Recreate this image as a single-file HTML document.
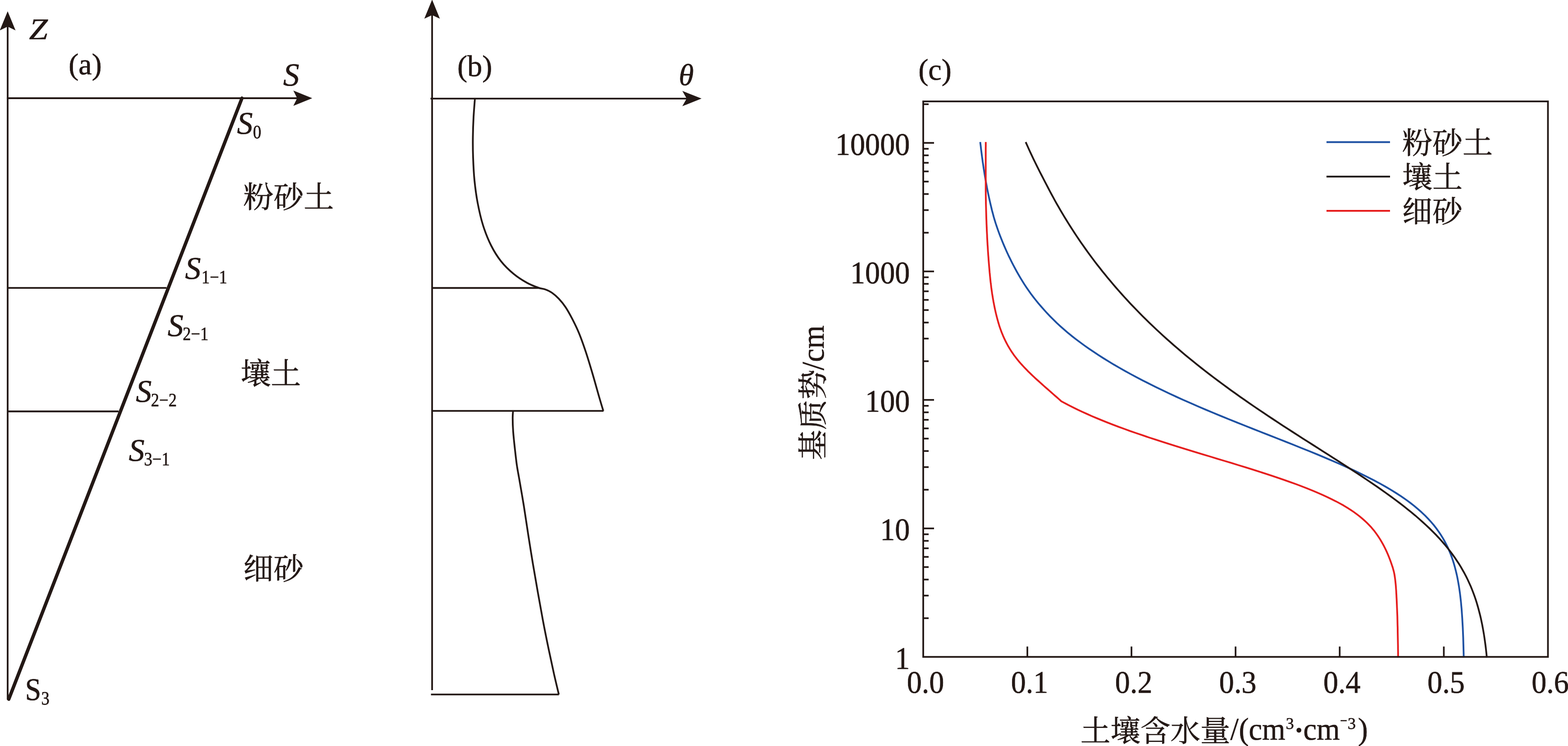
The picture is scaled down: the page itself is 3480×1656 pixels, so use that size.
<!DOCTYPE html>
<html lang="zh"><head><meta charset="utf-8"><title>Soil profile and water retention curves</title>
<style>
html,body{margin:0;padding:0;background:#fff;}
body{width:3480px;height:1656px;overflow:hidden;}
svg{display:block;}
text{font-family:"Liberation Serif","Noto Serif CJK SC",serif;fill:#231815;stroke:#231815;stroke-width:0.7px;stroke-linejoin:round;text-rendering:geometricPrecision;}
.i{font-style:italic;}
</style></head><body>
<svg width="3480" height="1656" viewBox="0 0 3480 1656">
<g opacity="0.999">
<line x1="17.0" y1="57.0" x2="17.0" y2="1553.0" stroke="#231815" stroke-width="3.8" stroke-linecap="butt"/>
<path d="M17.0 25.0 L34.5 67.5 L17.0 59.0 L-0.5 67.5 Z" fill="#231815"/>
<line x1="15.2" y1="218.0" x2="660.0" y2="218.0" stroke="#231815" stroke-width="3.8" stroke-linecap="butt"/>
<path d="M693.0 218.0 L651.0 235.0 L659.5 218.0 L651.0 201.0 Z" fill="#231815"/>
<line x1="537.0" y1="218.0" x2="19.5" y2="1552.0" stroke="#231815" stroke-width="7.6" stroke-linecap="round"/>
<line x1="17.0" y1="639.1" x2="369.5" y2="639.1" stroke="#231815" stroke-width="3.9" stroke-linecap="butt"/>
<line x1="17.0" y1="913.2" x2="263.0" y2="913.2" stroke="#231815" stroke-width="3.9" stroke-linecap="butt"/>
<text transform="translate(64.6,87.4) scale(1.120,1)" font-size="66.5" text-anchor="start" class="i" >Z</text>
<text x="152.2" y="165.4" font-size="66.5" text-anchor="start" >(a)</text>
<text x="628.6" y="189.6" font-size="71.5" text-anchor="start" class="i" >S</text>
<text x="525.9" y="297.3" font-size="70.0" text-anchor="start" class="i" >S</text>
<text transform="translate(561.4,307.1) scale(0.870,1)" font-size="42.0" text-anchor="start" >0</text>
<text x="410.7" y="619.2" font-size="70.0" text-anchor="start" class="i" >S</text>
<text transform="translate(447.2,629.0) scale(0.870,1)" font-size="42.0" text-anchor="start" >1−1</text>
<text x="372.0" y="745.6" font-size="70.0" text-anchor="start" class="i" >S</text>
<text transform="translate(405.5,755.4) scale(0.870,1)" font-size="42.0" text-anchor="start" >2−1</text>
<text x="301.6" y="891.9" font-size="70.0" text-anchor="start" class="i" >S</text>
<text transform="translate(335.1,901.7) scale(0.870,1)" font-size="42.0" text-anchor="start" >2−2</text>
<text x="285.8" y="1022.7" font-size="70.0" text-anchor="start" class="i" >S</text>
<text transform="translate(319.8,1032.5) scale(0.870,1)" font-size="42.0" text-anchor="start" >3−1</text>
<text transform="translate(55.7,1554.1) scale(0.910,1)" font-size="70.0" text-anchor="start" >S</text>
<text transform="translate(91.6,1563.9) scale(0.870,1)" font-size="42.0" text-anchor="start" >3</text>
<text x="540.0" y="460.8" font-size="67" text-anchor="start">粉砂土</text>
<text x="534.0" y="853.0" font-size="67" text-anchor="start">壤土</text>
<text x="540.0" y="1286.0" font-size="67" text-anchor="start">细砂</text>
<line x1="959.0" y1="30.0" x2="959.0" y2="1532.0" stroke="#231815" stroke-width="3.8" stroke-linecap="butt"/>
<path d="M959.0 -0.8 L976.3 41.6 L959.0 33.4 L941.7 41.6 Z" fill="#231815"/>
<line x1="955.5" y1="218.8" x2="1524.0" y2="218.8" stroke="#231815" stroke-width="3.8" stroke-linecap="butt"/>
<path d="M1557.0 218.8 L1514.3 235.8 L1524.0 218.8 L1514.3 201.8 Z" fill="#231815"/>
<text x="1014.9" y="169.0" font-size="66.5" text-anchor="start" >(b)</text>
<text x="1506.4" y="188.7" font-size="67.5" text-anchor="start" class="i" >θ</text>
<line x1="959.0" y1="639.2" x2="1197.0" y2="639.2" stroke="#231815" stroke-width="3.9" stroke-linecap="butt"/>
<line x1="959.0" y1="912.1" x2="1339.5" y2="912.1" stroke="#231815" stroke-width="3.9" stroke-linecap="butt"/>
<line x1="956.5" y1="1541.6" x2="1240.5" y2="1541.6" stroke="#231815" stroke-width="3.9" stroke-linecap="butt"/>
<path d="M1054.0 218.8C1053.5 225.7 1051.8 245.6 1051.0 260.0C1050.2 274.4 1049.7 290.0 1049.5 305.0C1049.3 320.0 1049.4 334.2 1050.0 350.0C1050.6 365.8 1051.3 383.3 1053.0 400.0C1054.7 416.7 1056.8 433.3 1060.0 450.0C1063.2 466.7 1067.0 484.2 1072.0 500.0C1077.0 515.8 1083.3 531.7 1090.0 545.0C1096.7 558.3 1103.7 569.5 1112.0 580.0C1120.3 590.5 1130.3 600.0 1140.0 608.0C1149.7 616.0 1160.8 622.9 1170.0 628.0C1179.2 633.1 1188.5 636.4 1195.2 638.8C1201.9 641.2 1205.2 640.6 1210.2 642.5C1215.2 644.4 1220.2 646.5 1225.2 650.0C1230.2 653.5 1235.2 657.9 1240.2 663.2C1245.2 668.5 1250.2 674.4 1255.2 681.9C1260.2 689.4 1265.2 698.5 1270.2 708.2C1275.2 717.9 1280.2 727.8 1285.2 740.0C1290.2 752.2 1295.2 766.4 1300.2 781.4C1305.2 796.4 1310.2 813.2 1315.2 830.1C1320.2 847.0 1326.2 869.0 1330.2 882.7C1334.2 896.4 1337.5 907.2 1339.0 912.1" fill="none" stroke="#231815" stroke-width="3.9" stroke-linejoin="round"/>
<path d="M1138.7 912.1C1138.5 914.7 1137.8 920.1 1137.8 927.7C1137.8 935.3 1138.1 946.5 1138.9 957.7C1139.7 969.0 1141.2 982.7 1142.6 995.2C1144.0 1007.7 1145.5 1021.8 1147.1 1032.8C1148.7 1043.8 1149.4 1045.9 1152.0 1061.0C1154.6 1076.1 1159.3 1102.6 1162.7 1123.6C1166.1 1144.6 1169.1 1166.0 1172.4 1187.2C1175.7 1208.4 1179.1 1229.7 1182.6 1250.9C1186.1 1272.1 1189.8 1293.3 1193.6 1314.5C1197.3 1335.7 1201.1 1356.9 1205.1 1378.1C1209.1 1399.3 1213.7 1421.9 1217.8 1441.7C1221.9 1461.5 1226.0 1480.2 1229.7 1496.9C1233.5 1513.6 1238.5 1534.1 1240.3 1541.6" fill="none" stroke="#231815" stroke-width="3.9" stroke-linejoin="round"/>
<line x1="2049.0" y1="1372.3" x2="2061.0" y2="1372.3" stroke="#231815" stroke-width="3.7" stroke-linecap="butt"/>
<line x1="2049.0" y1="1322.1" x2="2061.0" y2="1322.1" stroke="#231815" stroke-width="3.7" stroke-linecap="butt"/>
<line x1="2049.0" y1="1286.5" x2="2061.0" y2="1286.5" stroke="#231815" stroke-width="3.7" stroke-linecap="butt"/>
<line x1="2049.0" y1="1258.8" x2="2061.0" y2="1258.8" stroke="#231815" stroke-width="3.7" stroke-linecap="butt"/>
<line x1="2049.0" y1="1236.2" x2="2061.0" y2="1236.2" stroke="#231815" stroke-width="3.7" stroke-linecap="butt"/>
<line x1="2049.0" y1="1217.1" x2="2061.0" y2="1217.1" stroke="#231815" stroke-width="3.7" stroke-linecap="butt"/>
<line x1="2049.0" y1="1200.6" x2="2061.0" y2="1200.6" stroke="#231815" stroke-width="3.7" stroke-linecap="butt"/>
<line x1="2049.0" y1="1186.0" x2="2061.0" y2="1186.0" stroke="#231815" stroke-width="3.7" stroke-linecap="butt"/>
<line x1="2049.0" y1="1173.0" x2="2073.0" y2="1173.0" stroke="#231815" stroke-width="3.7" stroke-linecap="butt"/>
<line x1="2049.0" y1="1087.1" x2="2061.0" y2="1087.1" stroke="#231815" stroke-width="3.7" stroke-linecap="butt"/>
<line x1="2049.0" y1="1036.9" x2="2061.0" y2="1036.9" stroke="#231815" stroke-width="3.7" stroke-linecap="butt"/>
<line x1="2049.0" y1="1001.2" x2="2061.0" y2="1001.2" stroke="#231815" stroke-width="3.7" stroke-linecap="butt"/>
<line x1="2049.0" y1="973.6" x2="2061.0" y2="973.6" stroke="#231815" stroke-width="3.7" stroke-linecap="butt"/>
<line x1="2049.0" y1="951.0" x2="2061.0" y2="951.0" stroke="#231815" stroke-width="3.7" stroke-linecap="butt"/>
<line x1="2049.0" y1="931.9" x2="2061.0" y2="931.9" stroke="#231815" stroke-width="3.7" stroke-linecap="butt"/>
<line x1="2049.0" y1="915.3" x2="2061.0" y2="915.3" stroke="#231815" stroke-width="3.7" stroke-linecap="butt"/>
<line x1="2049.0" y1="900.8" x2="2061.0" y2="900.8" stroke="#231815" stroke-width="3.7" stroke-linecap="butt"/>
<line x1="2049.0" y1="887.7" x2="2073.0" y2="887.7" stroke="#231815" stroke-width="3.7" stroke-linecap="butt"/>
<line x1="2049.0" y1="801.8" x2="2061.0" y2="801.8" stroke="#231815" stroke-width="3.7" stroke-linecap="butt"/>
<line x1="2049.0" y1="751.6" x2="2061.0" y2="751.6" stroke="#231815" stroke-width="3.7" stroke-linecap="butt"/>
<line x1="2049.0" y1="716.0" x2="2061.0" y2="716.0" stroke="#231815" stroke-width="3.7" stroke-linecap="butt"/>
<line x1="2049.0" y1="688.3" x2="2061.0" y2="688.3" stroke="#231815" stroke-width="3.7" stroke-linecap="butt"/>
<line x1="2049.0" y1="665.7" x2="2061.0" y2="665.7" stroke="#231815" stroke-width="3.7" stroke-linecap="butt"/>
<line x1="2049.0" y1="646.6" x2="2061.0" y2="646.6" stroke="#231815" stroke-width="3.7" stroke-linecap="butt"/>
<line x1="2049.0" y1="630.1" x2="2061.0" y2="630.1" stroke="#231815" stroke-width="3.7" stroke-linecap="butt"/>
<line x1="2049.0" y1="615.5" x2="2061.0" y2="615.5" stroke="#231815" stroke-width="3.7" stroke-linecap="butt"/>
<line x1="2049.0" y1="602.5" x2="2073.0" y2="602.5" stroke="#231815" stroke-width="3.7" stroke-linecap="butt"/>
<line x1="2049.0" y1="516.6" x2="2061.0" y2="516.6" stroke="#231815" stroke-width="3.7" stroke-linecap="butt"/>
<line x1="2049.0" y1="466.4" x2="2061.0" y2="466.4" stroke="#231815" stroke-width="3.7" stroke-linecap="butt"/>
<line x1="2049.0" y1="430.7" x2="2061.0" y2="430.7" stroke="#231815" stroke-width="3.7" stroke-linecap="butt"/>
<line x1="2049.0" y1="403.1" x2="2061.0" y2="403.1" stroke="#231815" stroke-width="3.7" stroke-linecap="butt"/>
<line x1="2049.0" y1="380.5" x2="2061.0" y2="380.5" stroke="#231815" stroke-width="3.7" stroke-linecap="butt"/>
<line x1="2049.0" y1="361.4" x2="2061.0" y2="361.4" stroke="#231815" stroke-width="3.7" stroke-linecap="butt"/>
<line x1="2049.0" y1="344.8" x2="2061.0" y2="344.8" stroke="#231815" stroke-width="3.7" stroke-linecap="butt"/>
<line x1="2049.0" y1="330.3" x2="2061.0" y2="330.3" stroke="#231815" stroke-width="3.7" stroke-linecap="butt"/>
<line x1="2049.0" y1="317.2" x2="2073.0" y2="317.2" stroke="#231815" stroke-width="3.7" stroke-linecap="butt"/>
<line x1="2049.0" y1="231.3" x2="2061.0" y2="231.3" stroke="#231815" stroke-width="3.7" stroke-linecap="butt"/>
<line x1="2280.1" y1="1458.2" x2="2280.1" y2="1435.2" stroke="#231815" stroke-width="3.7" stroke-linecap="butt"/>
<line x1="2511.2" y1="1458.2" x2="2511.2" y2="1435.2" stroke="#231815" stroke-width="3.7" stroke-linecap="butt"/>
<line x1="2742.2" y1="1458.2" x2="2742.2" y2="1435.2" stroke="#231815" stroke-width="3.7" stroke-linecap="butt"/>
<line x1="2973.3" y1="1458.2" x2="2973.3" y2="1435.2" stroke="#231815" stroke-width="3.7" stroke-linecap="butt"/>
<line x1="3204.4" y1="1458.2" x2="3204.4" y2="1435.2" stroke="#231815" stroke-width="3.7" stroke-linecap="butt"/>
<text transform="translate(2019.3,343.5) scale(0.945,1)" font-size="70.0" text-anchor="end" >10000</text>
<text transform="translate(2019.3,628.8) scale(0.945,1)" font-size="70.0" text-anchor="end" >1000</text>
<text transform="translate(2019.3,914.0) scale(0.945,1)" font-size="70.0" text-anchor="end" >100</text>
<text transform="translate(2019.3,1199.2) scale(0.945,1)" font-size="70.0" text-anchor="end" >10</text>
<text transform="translate(2019.3,1484.5) scale(0.945,1)" font-size="70.0" text-anchor="end" >1</text>
<text transform="translate(2054.0,1537.5) scale(0.945,1)" font-size="70.0" text-anchor="middle" >0.0</text>
<text transform="translate(2285.1,1537.5) scale(0.945,1)" font-size="70.0" text-anchor="middle" >0.1</text>
<text transform="translate(2516.2,1537.5) scale(0.945,1)" font-size="70.0" text-anchor="middle" >0.2</text>
<text transform="translate(2747.2,1537.5) scale(0.945,1)" font-size="70.0" text-anchor="middle" >0.3</text>
<text transform="translate(2978.3,1537.5) scale(0.945,1)" font-size="70.0" text-anchor="middle" >0.4</text>
<text transform="translate(3209.4,1537.5) scale(0.945,1)" font-size="70.0" text-anchor="middle" >0.5</text>
<text transform="translate(3440.5,1537.5) scale(0.945,1)" font-size="70.0" text-anchor="middle" >0.6</text>
<text x="2038.2" y="176.9" font-size="66.5" text-anchor="start" >(c)</text>
<path d="M3248.5 1458.2 L3248.4 1451.1 L3248.2 1443.9 L3248.0 1436.8 L3247.8 1429.7 L3247.6 1422.5 L3247.4 1415.4 L3247.1 1408.3 L3246.8 1401.2 L3246.5 1394.0 L3246.1 1386.9 L3245.7 1379.8 L3245.3 1372.6 L3244.8 1365.5 L3244.3 1358.4 L3243.8 1351.2 L3243.1 1344.1 L3242.5 1337.0 L3241.7 1329.8 L3240.9 1322.7 L3240.0 1315.6 L3239.0 1308.4 L3237.9 1301.3 L3236.7 1294.2 L3235.4 1287.0 L3234.0 1279.9 L3232.4 1272.8 L3230.7 1265.7 L3228.8 1258.5 L3226.8 1251.4 L3224.6 1244.3 L3222.1 1237.1 L3219.5 1230.0 L3216.6 1222.9 L3213.4 1215.7 L3209.9 1208.6 L3206.2 1201.5 L3202.1 1194.3 L3197.7 1187.2 L3192.9 1180.1 L3187.8 1173.0 L3182.2 1165.8 L3176.2 1158.7 L3169.7 1151.6 L3162.7 1144.4 L3155.2 1137.3 L3147.2 1130.2 L3138.6 1123.0 L3129.5 1115.9 L3119.8 1108.8 L3109.5 1101.6 L3098.5 1094.5 L3087.0 1087.4 L3074.9 1080.2 L3062.2 1073.1 L3048.9 1066.0 L3035.0 1058.9 L3020.5 1051.7 L3005.6 1044.6 L2990.1 1037.5 L2974.1 1030.3 L2957.8 1023.2 L2941.0 1016.1 L2923.9 1008.9 L2906.5 1001.8 L2888.8 994.7 L2871.0 987.5 L2853.0 980.4 L2834.9 973.3 L2816.8 966.1 L2798.6 959.0 L2780.5 951.9 L2762.6 944.8 L2744.7 937.6 L2727.0 930.5 L2709.5 923.4 L2692.3 916.2 L2675.3 909.1 L2658.6 902.0 L2642.2 894.8 L2626.1 887.7 L2610.4 880.6 L2595.0 873.4 L2580.0 866.3 L2565.3 859.2 L2550.9 852.0 L2536.9 844.9 L2523.1 837.8 L2509.8 830.6 L2496.8 823.5 L2484.3 816.4 L2472.0 809.3 L2460.2 802.1 L2448.6 795.0 L2437.5 787.9 L2426.7 780.7 L2416.2 773.6 L2406.1 766.5 L2396.3 759.3 L2386.9 752.2 L2377.8 745.1 L2369.1 737.9 L2360.8 730.8 L2352.8 723.7 L2345.1 716.6 L2337.8 709.4 L2330.7 702.3 L2323.9 695.2 L2317.4 688.0 L2311.1 680.9 L2304.9 673.8 L2299.1 666.6 L2293.5 659.5 L2288.1 652.4 L2283.0 645.2 L2278.1 638.1 L2273.4 631.0 L2268.9 623.8 L2264.6 616.7 L2260.4 609.6 L2256.4 602.5 L2252.5 595.3 L2248.7 588.2 L2245.1 581.1 L2241.6 573.9 L2238.1 566.8 L2234.8 559.7 L2231.6 552.5 L2228.5 545.4 L2225.5 538.3 L2222.6 531.1 L2219.8 524.0 L2217.1 516.9 L2214.5 509.7 L2212.1 502.6 L2209.7 495.5 L2207.5 488.4 L2205.4 481.2 L2203.5 474.1 L2201.6 467.0 L2199.9 459.8 L2198.2 452.7 L2196.6 445.6 L2195.0 438.4 L2193.5 431.3 L2192.0 424.2 L2190.6 417.0 L2189.3 409.9 L2188.0 402.8 L2186.7 395.6 L2185.5 388.5 L2184.4 381.4 L2183.2 374.2 L2182.2 367.1 L2181.1 360.0 L2180.2 352.9 L2179.2 345.7 L2178.3 338.6 L2177.4 331.5 L2176.6 324.3 L2175.7 317.2" fill="none" stroke="#1d50a2" stroke-width="3.9" stroke-linejoin="round" stroke-linecap="square"/>
<path d="M3299.7 1458.2 L3299.0 1451.1 L3298.2 1443.9 L3297.4 1436.8 L3296.5 1429.7 L3295.5 1422.5 L3294.5 1415.4 L3293.4 1408.3 L3292.2 1401.2 L3290.9 1394.0 L3289.6 1386.9 L3288.1 1379.8 L3286.6 1372.6 L3284.9 1365.5 L3283.1 1358.4 L3281.2 1351.2 L3279.2 1344.1 L3277.1 1337.0 L3274.8 1329.8 L3272.3 1322.7 L3269.7 1315.6 L3266.9 1308.4 L3264.0 1301.3 L3260.8 1294.2 L3257.5 1287.0 L3254.0 1279.9 L3250.3 1272.8 L3246.3 1265.7 L3242.2 1258.5 L3237.8 1251.4 L3233.1 1244.3 L3228.3 1237.1 L3223.1 1230.0 L3217.8 1222.9 L3212.1 1215.7 L3206.2 1208.6 L3200.0 1201.5 L3193.6 1194.3 L3186.9 1187.2 L3179.9 1180.1 L3172.7 1173.0 L3165.1 1165.8 L3157.3 1158.7 L3149.3 1151.6 L3141.0 1144.4 L3132.4 1137.3 L3123.6 1130.2 L3114.6 1123.0 L3105.3 1115.9 L3095.8 1108.8 L3086.1 1101.6 L3076.2 1094.5 L3066.2 1087.4 L3055.9 1080.2 L3045.6 1073.1 L3035.0 1066.0 L3024.4 1058.9 L3013.6 1051.7 L3002.7 1044.6 L2991.7 1037.5 L2980.7 1030.3 L2969.6 1023.2 L2958.5 1016.1 L2947.3 1008.9 L2936.1 1001.8 L2924.9 994.7 L2913.7 987.5 L2902.5 980.4 L2891.3 973.3 L2880.2 966.1 L2869.1 959.0 L2858.1 951.9 L2847.1 944.8 L2836.2 937.6 L2825.4 930.5 L2814.6 923.4 L2803.9 916.2 L2793.4 909.1 L2782.9 902.0 L2772.5 894.8 L2762.2 887.7 L2752.0 880.6 L2742.0 873.4 L2732.0 866.3 L2722.2 859.2 L2712.5 852.0 L2702.9 844.9 L2693.4 837.8 L2684.0 830.6 L2674.8 823.5 L2665.7 816.4 L2656.7 809.3 L2647.8 802.1 L2639.1 795.0 L2630.5 787.9 L2622.0 780.7 L2613.6 773.6 L2605.3 766.5 L2597.2 759.3 L2589.2 752.2 L2581.3 745.1 L2573.5 737.9 L2565.9 730.8 L2558.3 723.7 L2550.9 716.6 L2543.6 709.4 L2536.4 702.3 L2529.3 695.2 L2522.4 688.0 L2515.5 680.9 L2508.7 673.8 L2502.1 666.6 L2495.5 659.5 L2489.1 652.4 L2482.8 645.2 L2476.5 638.1 L2470.4 631.0 L2464.4 623.8 L2458.4 616.7 L2452.6 609.6 L2446.8 602.5 L2441.2 595.3 L2435.6 588.2 L2430.1 581.1 L2424.7 573.9 L2419.5 566.8 L2414.2 559.7 L2409.1 552.5 L2404.1 545.4 L2399.1 538.3 L2394.2 531.1 L2389.4 524.0 L2384.7 516.9 L2380.1 509.7 L2375.5 502.6 L2371.0 495.5 L2366.6 488.4 L2362.2 481.2 L2357.9 474.1 L2353.7 467.0 L2349.6 459.8 L2345.5 452.7 L2341.5 445.6 L2337.6 438.4 L2333.7 431.3 L2329.9 424.2 L2326.2 417.0 L2322.5 409.9 L2318.8 402.8 L2315.1 395.6 L2311.4 388.5 L2307.7 381.4 L2304.1 374.2 L2300.6 367.1 L2297.1 360.0 L2293.6 352.9 L2290.2 345.7 L2286.9 338.6 L2283.6 331.5 L2280.4 324.3 L2277.2 317.2" fill="none" stroke="#231815" stroke-width="3.9" stroke-linejoin="round" stroke-linecap="square"/>
<path d="M3103.0 1458.2 L3102.9 1453.5 L3102.9 1448.7 L3102.8 1444.0 L3102.7 1439.3 L3102.7 1434.5 L3102.6 1429.8 L3102.5 1425.1 L3102.4 1420.4 L3102.3 1415.6 L3102.2 1410.9 L3102.1 1406.2 L3102.0 1401.4 L3102.0 1396.7 L3101.9 1392.0 L3101.7 1387.2 L3101.6 1382.5 L3101.5 1377.8 L3101.4 1373.1 L3101.3 1368.3 L3101.1 1363.6 L3100.9 1358.9 L3100.7 1354.1 L3100.5 1349.4 L3100.3 1344.7 L3100.1 1339.9 L3099.9 1335.2 L3099.7 1330.5 L3099.4 1325.7 L3099.2 1321.0 L3098.9 1316.3 L3098.7 1311.6 L3098.3 1306.8 L3098.0 1302.1 L3097.6 1297.4 L3097.1 1292.6 L3096.6 1287.9 L3096.0 1283.2 L3095.3 1278.4 L3094.5 1273.7 L3093.5 1269.0 L3092.2 1264.3 L3090.9 1259.5 L3089.3 1254.8 L3087.7 1250.1 L3086.0 1245.3 L3084.2 1240.6 L3082.4 1235.9 L3080.4 1231.1 L3078.4 1226.4 L3076.2 1221.7 L3073.9 1216.9 L3071.5 1212.2 L3069.0 1207.5 L3066.3 1202.8 L3063.5 1198.0 L3060.5 1193.3 L3057.4 1188.6 L3054.0 1183.8 L3050.5 1179.1 L3046.6 1174.4 L3042.5 1169.6 L3038.0 1164.9 L3033.3 1160.2 L3028.3 1155.5 L3022.9 1150.7 L3017.2 1146.0 L3011.0 1141.3 L3004.5 1136.5 L2997.6 1131.8 L2990.2 1127.1 L2982.3 1122.3 L2973.9 1117.6 L2965.0 1112.9 L2955.6 1108.2 L2945.8 1103.4 L2935.5 1098.7 L2924.7 1094.0 L2913.5 1089.2 L2901.8 1084.5 L2889.6 1079.8 L2877.1 1075.0 L2864.1 1070.3 L2850.7 1065.6 L2836.9 1060.8 L2822.8 1056.1 L2808.4 1051.4 L2793.7 1046.7 L2778.8 1041.9 L2763.6 1037.2 L2748.3 1032.5 L2732.8 1027.7 L2717.2 1023.0 L2701.6 1018.3 L2685.9 1013.5 L2670.3 1008.8 L2654.7 1004.1 L2639.2 999.4 L2623.8 994.6 L2608.5 989.9 L2593.5 985.2 L2578.6 980.4 L2564.0 975.7 L2549.6 971.0 L2535.6 966.2 L2521.8 961.5 L2508.3 956.8 L2495.1 952.0 L2482.3 947.3 L2469.8 942.6 L2457.6 937.9 L2445.8 933.1 L2434.3 928.4 L2423.2 923.7 L2412.5 918.9 L2402.1 914.2 L2392.0 909.5 L2382.3 904.7 L2372.9 900.0 L2363.9 895.3 L2355.2 890.6L2353.6 889.0 L2349.5 885.4 L2345.4 881.8 L2341.3 878.2 L2337.2 874.6 L2333.1 871.0 L2329.0 867.4 L2324.9 863.8 L2320.8 860.2 L2316.7 856.6 L2312.7 853.0 L2308.7 849.4 L2304.7 845.8 L2300.7 842.2 L2296.8 838.7 L2293.0 835.1 L2289.2 831.5 L2285.5 827.9 L2281.8 824.3 L2278.3 820.7 L2274.8 817.1 L2271.4 813.5 L2268.1 809.9 L2264.8 806.3 L2261.7 802.7 L2258.7 799.1 L2255.9 795.5 L2253.1 791.9 L2250.4 788.3 L2247.9 784.7 L2245.4 781.1 L2243.1 777.5 L2240.9 773.9 L2238.7 770.3 L2236.6 766.7 L2234.7 763.1 L2232.8 759.5 L2231.0 755.9 L2229.3 752.3 L2227.6 748.7 L2226.1 745.2 L2224.6 741.6 L2223.1 738.0 L2221.8 734.4 L2220.5 730.8 L2219.2 727.2 L2218.0 723.6 L2216.9 720.0 L2215.8 716.4 L2214.8 712.8 L2213.8 709.2 L2212.8 705.6 L2211.9 702.0 L2211.0 698.4 L2210.1 694.8 L2209.3 691.2 L2208.5 687.6 L2207.7 684.0 L2207.0 680.4 L2206.3 676.8 L2205.6 673.2 L2204.9 669.6 L2204.3 666.0 L2203.6 662.4 L2203.1 658.8 L2202.5 655.2 L2201.9 651.6 L2201.4 648.1 L2200.9 644.5 L2200.4 640.9 L2199.9 637.3 L2199.5 633.7 L2199.1 630.1 L2198.6 626.5 L2198.2 622.9 L2197.8 619.3 L2197.5 615.7 L2197.1 612.1 L2196.8 608.5 L2196.4 604.9 L2196.1 601.3 L2195.8 597.7 L2195.5 594.1 L2195.2 590.5 L2194.9 586.9 L2194.6 583.3 L2194.3 579.7 L2194.0 576.1 L2193.8 572.5 L2193.5 568.9 L2193.2 565.3 L2193.0 561.7 L2192.7 558.1 L2192.5 554.6 L2192.3 551.0 L2192.1 547.4 L2191.8 543.8 L2191.6 540.2 L2191.4 536.6 L2191.2 533.0 L2191.0 529.4 L2190.8 525.8 L2190.7 522.2 L2190.5 518.6 L2190.3 515.0 L2190.1 511.4 L2190.0 507.8 L2189.8 504.2 L2189.7 500.6 L2189.5 497.0 L2189.4 493.4 L2189.3 489.8 L2189.1 486.2 L2189.0 482.6 L2188.9 479.0 L2188.8 475.4 L2188.7 471.8 L2188.6 468.2 L2188.5 464.6 L2188.4 461.0 L2188.3 457.5 L2188.2 453.9 L2188.1 450.3 L2188.1 446.7 L2188.0 443.1 L2187.9 439.5 L2187.9 435.9 L2187.8 432.3 L2187.8 428.7 L2187.7 425.1 L2187.7 421.5 L2187.7 417.9 L2187.7 414.3 L2187.7 410.7 L2187.7 407.1 L2187.7 403.5 L2187.7 399.9 L2187.7 396.3 L2187.7 392.7 L2187.7 389.1 L2187.7 385.5 L2187.7 381.9 L2187.7 378.3 L2187.7 374.7 L2187.7 371.1 L2187.7 367.5 L2187.7 364.0 L2187.7 360.4 L2187.7 356.8 L2187.7 353.2 L2187.7 349.6 L2187.7 346.0 L2187.7 342.4 L2187.7 338.8 L2187.7 335.2 L2187.7 331.6 L2187.7 328.0 L2187.8 324.4 L2187.8 320.8 L2187.8 317.2" fill="none" stroke="#e61e1e" stroke-width="3.9" stroke-linejoin="round" stroke-linecap="square"/>
<rect x="2049.0" y="225.1" width="1386.5" height="1233.1" fill="none" stroke="#231815" stroke-width="3.8"/>
<line x1="2944.0" y1="315.5" x2="3085.0" y2="315.5" stroke="#1d50a2" stroke-width="4.0" stroke-linecap="butt"/>
<line x1="2944.0" y1="392.0" x2="3085.0" y2="392.0" stroke="#231815" stroke-width="4.0" stroke-linecap="butt"/>
<line x1="2944.0" y1="468.0" x2="3085.0" y2="468.0" stroke="#e61e1e" stroke-width="4.0" stroke-linecap="butt"/>
<text x="3112.0" y="341.0" font-size="67" text-anchor="start">粉砂土</text>
<text x="3112.0" y="417.0" font-size="67" text-anchor="start">壤土</text>
<text x="3112.0" y="493.0" font-size="67" text-anchor="start">细砂</text>
<text x="2398.0" y="1646.0" font-size="66.5" text-anchor="start">土壤含水量</text>
<text transform="translate(2730.5,1642.2) scale(0.950,1)" font-size="70.0" text-anchor="start" >/</text>
<text transform="translate(2749.4,1642.2) scale(0.950,1)" font-size="70.0" text-anchor="start" >(</text>
<text transform="translate(2771.5,1642.2) scale(0.950,1)" font-size="70.0" text-anchor="start" >cm</text>
<text x="2853.8" y="1618.0" font-size="36.0" text-anchor="start" >3</text>
<circle cx="2882.8" cy="1620.9" r="5.4" fill="#231815"/>
<text transform="translate(2892.4,1642.2) scale(0.950,1)" font-size="70.0" text-anchor="start" >cm</text>
<line x1="2975.3" y1="1599.8" x2="2988.9" y2="1599.8" stroke="#231815" stroke-width="2.6" stroke-linecap="butt"/>
<text x="2991.1" y="1618.0" font-size="36.0" text-anchor="start" >3</text>
<text transform="translate(3013.8,1642.2) scale(0.950,1)" font-size="70.0" text-anchor="start" >)</text>
<text x="0" y="0" font-size="67" text-anchor="start" transform="translate(1827.5,1021.3) rotate(-90)">基质势</text>
<text x="0.0" y="0.0" font-size="70.0" text-anchor="start" transform="translate(1827.5,822) rotate(-90) scale(0.95,1)">/cm</text>
</g>
</svg>
</body></html>
